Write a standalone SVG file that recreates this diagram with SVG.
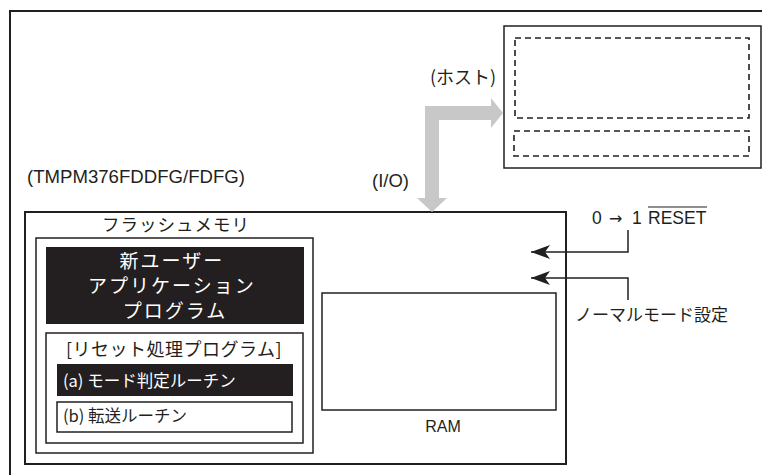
<svg xmlns="http://www.w3.org/2000/svg" width="762" height="475" viewBox="0 0 762 475">
<style>
.box{fill:#fff;stroke:#231f20;stroke-width:1.5}
.thick{fill:none;stroke:#231f20;stroke-width:2}
.dash{fill:none;stroke:#231f20;stroke-width:1.6;stroke-dasharray:6 4}
.dark{fill:#231f20}
.t{font-family:"Liberation Sans","Noto Sans CJK JP",Arial,sans-serif;fill:#231f20}
.j{font-family:"Noto Sans CJK JP","Liberation Sans",sans-serif;fill:#231f20}
.w{fill:#fff}
.line{fill:none;stroke:#231f20;stroke-width:1.5}
</style>
<defs>
<marker id="ah" markerUnits="userSpaceOnUse" markerWidth="20" markerHeight="16" refX="19" refY="8" orient="auto" viewBox="0 0 20 16">
<path d="M19,8 L0,1 L5,8 L0,15 Z" fill="#231f20"/>
</marker>
</defs>
<rect class="thick" x="10" y="11" width="760" height="470"/>
<g id="host">
<rect class="box" x="504" y="26" width="257" height="142"/>
<rect class="dash" x="515" y="38" width="234" height="80"/>
<rect class="dash" x="514" y="131" width="235" height="25"/>
<text class="j" x="430" y="84" font-size="18">(ホスト)</text>
</g>
<g id="chip">
<rect class="thick" x="25" y="212" width="541" height="252"/>
<text class="t" x="27" y="183" font-size="18.6">(TMPM376FDDFG/FDFG)</text>
</g>
<g id="flash">
<rect class="box" x="36" y="238" width="277" height="215"/>
<text class="j" x="176" y="231" font-size="17.5" text-anchor="middle" letter-spacing="1">フラッシュメモリ</text>
</g>
<g id="app">
<rect class="dark" x="46" y="247" width="258" height="77"/>
<text class="j w" font-size="19" text-anchor="middle" letter-spacing="2">
<tspan x="175" y="268">新ユーザー</tspan>
<tspan x="175" y="293">アプリケーション</tspan>
<tspan x="175" y="318">プログラム</tspan>
</text>
</g>
<g id="reset-program">
<rect class="box" x="46" y="333" width="257" height="110"/>
<text class="j" x="174" y="356" font-size="18" text-anchor="middle" letter-spacing="0.5">[リセット処理プログラム]</text>
</g>
<g id="mode-routine">
<rect class="dark" x="57" y="364" width="236" height="32"/>
<text class="j w" x="63" y="387" font-size="16.5">(a) モード判定ルーチン</text>
</g>
<g id="transfer-routine">
<rect class="box" x="57" y="402" width="235" height="30"/>
<text class="j" x="63" y="422" font-size="16.5">(b) 転送ルーチン</text>
</g>
<g id="ram">
<rect class="box" x="322" y="293" width="234" height="117"/>
<text class="t" x="443" y="432" font-size="16" text-anchor="middle">RAM</text>
</g>
<g id="connectors">
<path d="M425,106 H491 V98 L503,113 L491,128 V120 H439 V198 H447 L432,212 L417,198 H425 Z" fill="#c8c8c8"/>
<path class="line" d="M628,230 V252 H531" marker-end="url(#ah)"/>
<path class="line" d="M628,300 V278 H531" marker-end="url(#ah)"/>
</g>
<g id="labels">
<text class="t" x="592" y="224" font-size="17.5">0<tspan x="609" font-family="DejaVu Sans" font-size="16">→</tspan><tspan x="632">1</tspan><tspan x="648">RESET</tspan></text>
<line x1="648" y1="207" x2="707" y2="207" stroke="#231f20" stroke-width="1.2"/>
<text class="t" x="372" y="187" font-size="18.5">(I/O)</text>
<text class="j" x="575" y="321" font-size="17">ノーマルモード設定</text>
</g>
</svg>
